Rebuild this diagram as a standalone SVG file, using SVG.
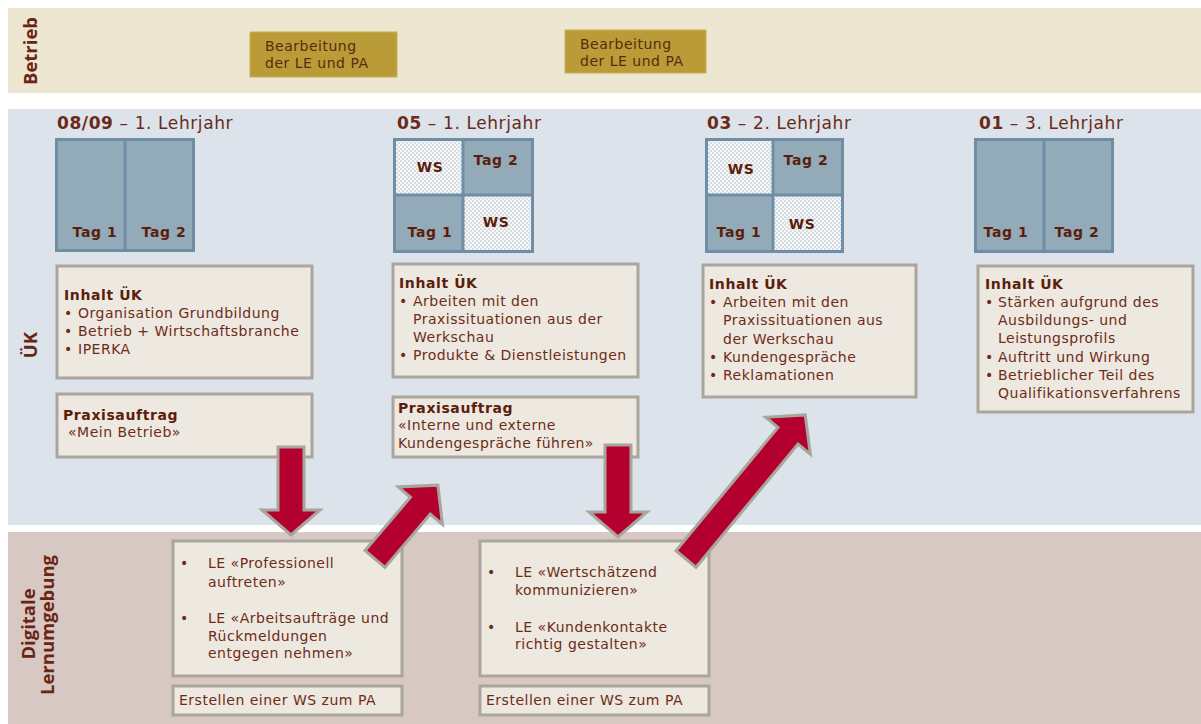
<svg xmlns="http://www.w3.org/2000/svg" width="1201" height="724" viewBox="0 0 1201 724">
<style>
.lbl{font-family:"Open Sans","DejaVu Sans",sans-serif;font-weight:bold;font-size:18.5px;fill:#6b2414}
.t{font-family:"DejaVu Sans","Liberation Sans",sans-serif;font-size:14px;letter-spacing:0.5px;fill:#6e2c17}
.b{font-family:"DejaVu Sans","Liberation Sans",sans-serif;font-size:14px;letter-spacing:0.6px;font-weight:bold;fill:#5b1d0c}
.h{font-family:"DejaVu Sans","Liberation Sans",sans-serif;font-size:17px;letter-spacing:0.6px;fill:#6b2a18}
.gold{fill:#b99b38;stroke:#c9b055;stroke-width:1}
.box{fill:#ede8e0;stroke:#aaa59d;stroke-width:3}
.cell{fill:#93aab9}
.ws{fill:url(#dots)}
.grid{fill:none;stroke:#6f8ea6;stroke-width:3}
.arr{fill:#b3002f;stroke:#a9a59c;stroke-width:3;stroke-linejoin:miter}
</style>
<defs>
<pattern id="dots" width="4" height="4" patternUnits="userSpaceOnUse">
<rect width="4" height="4" fill="#f7f8f9"/>
<circle cx="1" cy="1" r="0.75" fill="#a9b4bd"/>
<circle cx="3" cy="3" r="0.75" fill="#a9b4bd"/>
</pattern>
</defs>
<rect width="1201" height="724" fill="#ffffff"/>
<g id="bands">
<rect x="8" y="8" width="1193" height="85" fill="#ede6d0"/>
<rect x="8" y="109" width="1193" height="416" fill="#dce3ea"/>
<rect x="8" y="532" width="1193" height="192" fill="#d7c8c3"/>
<text class="lbl" transform="translate(37,51) rotate(-90)" text-anchor="middle">Betrieb</text>
<text class="lbl" transform="translate(37,345) rotate(-90)" text-anchor="middle">ÜK</text>
<text class="lbl" transform="translate(35,624) rotate(-90)" text-anchor="middle">Digitale</text>
<text class="lbl" transform="translate(54,625) rotate(-90)" text-anchor="middle">Lernumgebung</text>
</g>
<g id="betrieb1"><rect class="gold" x="250" y="32" width="147" height="45"/>
<text class="t" x="265" y="51" style="fill:#5a2a0e">Bearbeitung</text><text class="t" x="265" y="68" style="fill:#5a2a0e">der LE und PA</text></g>
<g id="betrieb2"><rect class="gold" x="565" y="30" width="141" height="43"/>
<text class="t" x="580" y="49" style="fill:#5a2a0e">Bearbeitung</text><text class="t" x="580" y="66" style="fill:#5a2a0e">der LE und PA</text></g>

<g id="col1">
<text class="h" x="57" y="129"><tspan font-weight="bold">08/09</tspan> – 1. Lehrjahr</text>
<rect class="cell" x="55" y="138" width="140" height="114"/>
<rect class="grid" x="56.5" y="139.5" width="137" height="111"/>
<line class="grid" x1="125" y1="139" x2="125" y2="251"/>
<text class="b" x="95" y="237" text-anchor="middle">Tag 1</text>
<text class="b" x="164" y="237" text-anchor="middle">Tag 2</text>
</g>
<g id="col2">
<text class="h" x="397" y="129"><tspan font-weight="bold">05</tspan> – 1. Lehrjahr</text>
<rect class="cell" x="393" y="138" width="141" height="115"/>
<rect class="ws" x="395" y="140" width="67" height="54"/>
<rect class="ws" x="464" y="196" width="68" height="55"/>
<rect class="grid" x="394.5" y="139.5" width="138" height="112"/>
<line class="grid" x1="463" y1="139" x2="463" y2="252"/>
<line class="grid" x1="394" y1="195" x2="533" y2="195"/>
<text class="b" x="430" y="172" text-anchor="middle">WS</text>
<text class="b" x="496" y="165" text-anchor="middle">Tag 2</text>
<text class="b" x="430" y="237" text-anchor="middle">Tag 1</text>
<text class="b" x="496" y="227" text-anchor="middle">WS</text>
</g>
<g id="col3">
<text class="h" x="707" y="129"><tspan font-weight="bold">03</tspan> – 2. Lehrjahr</text>
<rect class="cell" x="705" y="138" width="139" height="115"/>
<rect class="ws" x="707" y="140" width="66" height="54"/>
<rect class="ws" x="774" y="196" width="68" height="55"/>
<rect class="grid" x="706.5" y="139.5" width="136" height="112"/>
<line class="grid" x1="773" y1="139" x2="773" y2="252"/>
<line class="grid" x1="706" y1="195" x2="843" y2="195"/>
<text class="b" x="741" y="174" text-anchor="middle">WS</text>
<text class="b" x="806" y="165" text-anchor="middle">Tag 2</text>
<text class="b" x="739" y="237" text-anchor="middle">Tag 1</text>
<text class="b" x="802" y="229" text-anchor="middle">WS</text>
</g>
<g id="col4">
<text class="h" x="979" y="129"><tspan font-weight="bold">01</tspan> – 3. Lehrjahr</text>
<rect class="cell" x="974" y="138" width="140" height="115"/>
<rect class="grid" x="975.5" y="139.5" width="137" height="112"/>
<line class="grid" x1="1044" y1="139" x2="1044" y2="252"/>
<text class="b" x="1006" y="237" text-anchor="middle">Tag 1</text>
<text class="b" x="1077" y="237" text-anchor="middle">Tag 2</text>
</g>

<g id="inhalt1"><rect class="box" x="57" y="266" width="255" height="112"/>
<text class="b" x="64" y="300">Inhalt ÜK</text>
<text class="t" x="64" y="318">•</text><text class="t" x="78" y="318">Organisation Grundbildung</text>
<text class="t" x="64" y="336">•</text><text class="t" x="78" y="336">Betrieb + Wirtschaftsbranche</text>
<text class="t" x="64" y="354">•</text><text class="t" x="78" y="354">IPERKA</text>
</g>
<g id="praxis1"><rect class="box" x="57" y="394" width="255" height="63"/>
<text class="b" x="63" y="420">Praxisauftrag</text>
<text class="t" x="68" y="437">«Mein Betrieb»</text>
</g>
<g id="inhalt2"><rect class="box" x="393" y="264" width="245" height="113"/>
<text class="b" x="399" y="288">Inhalt ÜK</text>
<text class="t" x="399" y="306">•</text><text class="t" x="413" y="306">Arbeiten mit den</text>
<text class="t" x="413" y="324">Praxissituationen aus der</text>
<text class="t" x="413" y="342">Werkschau</text>
<text class="t" x="399" y="360">•</text><text class="t" x="413" y="360">Produkte &amp; Dienstleistungen</text>
</g>
<g id="praxis2"><rect class="box" x="393" y="397" width="245" height="60"/>
<text class="b" x="398" y="413">Praxisauftrag</text>
<text class="t" x="398" y="430">«Interne und externe</text>
<text class="t" x="398" y="448">Kundengespräche führen»</text>
</g>
<g id="inhalt3"><rect class="box" x="703" y="265" width="213" height="132"/>
<text class="b" x="709" y="289">Inhalt ÜK</text>
<text class="t" x="709" y="307">•</text><text class="t" x="723" y="307">Arbeiten mit den</text>
<text class="t" x="723" y="325">Praxissituationen aus</text>
<text class="t" x="723" y="344">der Werkschau</text>
<text class="t" x="709" y="362">•</text><text class="t" x="723" y="362">Kundengespräche</text>
<text class="t" x="709" y="380">•</text><text class="t" x="723" y="380">Reklamationen</text>
</g>
<g id="inhalt4"><rect class="box" x="978" y="266" width="215" height="146"/>
<text class="b" x="985" y="289">Inhalt ÜK</text>
<text class="t" x="985" y="307">•</text><text class="t" x="998" y="307">Stärken aufgrund des</text>
<text class="t" x="998" y="325">Ausbildungs- und</text>
<text class="t" x="998" y="343">Leistungsprofils</text>
<text class="t" x="985" y="362">•</text><text class="t" x="998" y="362">Auftritt und Wirkung</text>
<text class="t" x="985" y="380">•</text><text class="t" x="998" y="380">Betrieblicher Teil des</text>
<text class="t" x="998" y="398">Qualifikationsverfahrens</text>
</g>

<g id="le1"><rect class="box" x="173" y="541" width="229" height="135"/>
<text class="t" x="180" y="568">•</text><text class="t" x="208" y="568">LE «Professionell</text>
<text class="t" x="208" y="587">auftreten»</text>
<text class="t" x="180" y="623">•</text><text class="t" x="208" y="623">LE «Arbeitsaufträge und</text>
<text class="t" x="208" y="641">Rückmeldungen</text>
<text class="t" x="208" y="658">entgegen nehmen»</text>
</g>
<g id="ws1"><rect class="box" x="173" y="686" width="229" height="29"/>
<text class="t" x="179" y="705">Erstellen einer WS zum PA</text>
</g>
<g id="le2"><rect class="box" x="480" y="541" width="229" height="135"/>
<text class="t" x="487" y="577">•</text><text class="t" x="515" y="577">LE «Wertschätzend</text>
<text class="t" x="515" y="595">kommunizieren»</text>
<text class="t" x="487" y="632">•</text><text class="t" x="515" y="632">LE «Kundenkontakte</text>
<text class="t" x="515" y="649">richtig gestalten»</text>
</g>
<g id="ws2"><rect class="box" x="480" y="686" width="229" height="29"/>
<text class="t" x="486" y="705">Erstellen einer WS zum PA</text>
</g>

<g id="connectors">
<polygon class="arr" transform="translate(291,447) rotate(90)" points="0,-13 63,-13 63,-29 88,0 63,29 63,13 0,13"/>
<polygon class="arr" transform="translate(375,559) rotate(-49.6)" points="0,-13 70,-13 70,-29 97,0 70,29 70,13 0,13"/>
<polygon class="arr" transform="translate(618,445) rotate(90)" points="0,-13 67,-13 67,-29 92,0 67,29 67,13 0,13"/>
<polygon class="arr" transform="translate(686,559) rotate(-50.4)" points="0,-13 160,-13 160,-29 187,0 160,29 160,13 0,13"/>
</g>
</svg>
